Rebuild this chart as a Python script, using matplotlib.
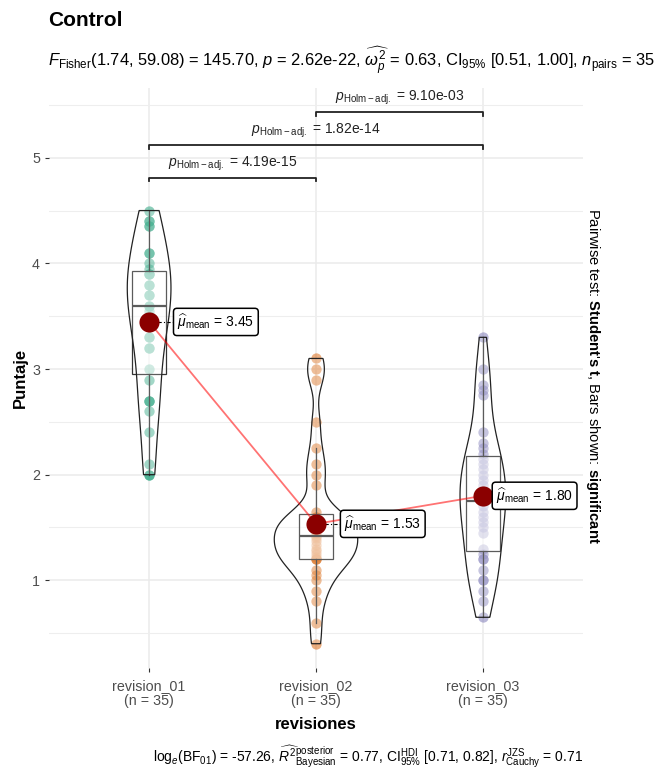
import numpy as np
import matplotlib
matplotlib.use("Agg")
import matplotlib.pyplot as plt
from matplotlib.patches import Polygon

plt.rcParams['font.family'] = ['Liberation Sans', 'DejaVu Sans']
plt.rcParams['mathtext.fontset'] = 'custom'
plt.rcParams['mathtext.rm'] = 'Liberation Sans'
plt.rcParams['mathtext.it'] = 'Liberation Sans:italic'
plt.rcParams['mathtext.bf'] = 'Liberation Sans:bold'

# data (35 scores per revision)
groups = ["revision_01", "revision_02", "revision_03"]
colors = ["#1B9E77", "#D95F02", "#7570B3"]

rev_01 = [2.0, 2.0, 2.1, 2.4, 2.6, 2.7, 2.7, 2.7, 2.9, 3.0, 3.2, 3.2, 3.3, 3.4,
          3.3, 3.5, 3.55, 3.6, 3.6, 3.7, 3.7, 3.8, 3.8, 3.9, 3.9, 3.9, 3.95,
          4.0, 4.1, 4.1, 4.35, 4.35, 4.4, 4.4, 4.5]
rev_02 = [0.4, 0.6, 0.8, 0.9, 1.0, 1.05, 1.1, 1.2, 1.2, 1.2, 1.22, 1.25, 1.28,
          1.3, 1.33, 1.37, 1.4, 1.42, 1.45, 1.48, 1.5, 1.52, 1.55, 1.58, 1.6,
          1.6, 1.65, 1.9, 2.0, 2.1, 2.25, 2.5, 2.9, 3.0, 3.1]
rev_03 = [0.65, 0.8, 0.9, 1.0, 1.0, 1.1, 1.2, 1.2, 1.25, 1.3, 1.45, 1.5, 1.55,
          1.6, 1.65, 1.7, 1.75, 1.75, 1.8, 1.85, 1.9, 1.95, 2.0, 2.05, 2.1, 2.15,
          2.2, 2.25, 2.3, 2.4, 2.8, 2.75, 2.85, 3.0, 3.3]
data = [np.array(rev_01), np.array(rev_02), np.array(rev_03)]

pairs = [(1, 2), (1, 3), (2, 3)]
p_holm = ["4.19e-15", "1.82e-14", "9.10e-03"]

subtitle = (r"$F_{\mathrm{Fisher}}$(1.74, 59.08) = 145.70, $p$ = 2.62e-22, "
            r"$\widehat{\omega_p^2}$ = 0.63, CI$_{95\%}$ [0.51, 1.00], $n_{\mathrm{pairs}}$ = 35")
caption = (r"log$_e$(BF$_{01}$) = -57.26, $\widehat{R^2}_{\mathrm{Bayesian}}^{\mathrm{posterior}}$ = 0.77, "
           r"CI$_{95\%}^{\mathrm{HDI}}$ [0.71, 0.82], $r_{\mathrm{Cauchy}}^{\mathrm{JZS}}$ = 0.71")


def kde(v, grid):
    n = len(v)
    iqr = np.subtract(*np.percentile(v, [75, 25]))
    bw = 0.9 * min(v.std(ddof=1), iqr / 1.34) * n ** -0.2
    z = (grid[:, None] - v[None, :]) / bw
    return np.exp(-0.5 * z ** 2).sum(axis=1) / (n * bw * np.sqrt(2 * np.pi))


fig = plt.figure(figsize=(6.61, 7.7), dpi=100)
ax = fig.add_axes([49 / 661, 1 - 668 / 770, (583 - 49) / 661, (668 - 88) / 770])

pos = np.arange(1, len(groups) + 1)

# points
for i, v in enumerate(data):
    ax.scatter(np.full(len(v), pos[i]), v, s=55, color=colors[i], alpha=0.5,
               linewidths=0, zorder=2)

# boxplots
bp = ax.boxplot(data, positions=pos, widths=0.2, showfliers=False, showcaps=False,
                patch_artist=True, whis=1.5,
                boxprops=dict(facecolor=(1, 1, 1, 0.5), edgecolor="#333333", linewidth=0.9),
                whiskerprops=dict(color="#333333", linewidth=0.9),
                medianprops=dict(color="#333333", linewidth=1.6))
for art in bp["boxes"] + bp["whiskers"] + bp["medians"]:
    art.set_zorder(3)

# violins (scale = area, width 0.5)
dens = []
for v in data:
    g = np.linspace(v.min(), v.max(), 512)
    dens.append((g, kde(v, g)))
dmax = max(d.max() for _, d in dens)
for i, (g, d) in enumerate(dens):
    hw = d / dmax * 0.25
    xs = np.concatenate([pos[i] - hw, (pos[i] + hw)[::-1]])
    ys = np.concatenate([g, g[::-1]])
    ax.add_patch(Polygon(np.column_stack([xs, ys]), closed=True, facecolor=(1, 1, 1, 0.2),
                         edgecolor="#222222", linewidth=0.9, zorder=4))

# centrality
means = [v.mean() for v in data]
ax.plot(pos, means, color="red", alpha=0.55, linewidth=1.3, zorder=5)
for i, m in enumerate(means):
    lx = min(pos[i] + 0.4, 3.31)
    ax.plot([pos[i], lx - 0.25], [m, m], color="black", linewidth=0.8,
            linestyle=(0, (3, 2, 1, 2)), zorder=5)
    ax.scatter([pos[i]], [m], s=210, color="darkred", zorder=6, linewidths=0)
    ax.text(lx, m, r"$\widehat{\mu}_{\mathrm{mean}}$ = %.2f" % m, ha="center", va="center",
            fontsize=10, zorder=7,
            bbox=dict(boxstyle="round,pad=0.28,rounding_size=0.25", fc="white",
                      ec="black", lw=1.1))

# pairwise brackets
ytop = max(v.max() for v in data)
step = 0.31
tip = 0.035
for k, ((a, b), lab) in enumerate(zip(pairs, p_holm)):
    yb = ytop + step * (k + 1)
    ax.plot([a, a, b, b], [yb - tip, yb, yb, yb - tip], color="#222222",
            linewidth=1.3, zorder=5)
    ax.text((a + b) / 2, yb + 0.05, r"$p_{\mathrm{Holm-adj.}}$ = " + lab,
            ha="center", va="bottom", fontsize=10, color="#222222")

ax.set_xlim(0.4, 3.6)
ax.set_ylim(0.17, 5.66)
ax.set_xticks(pos)
ax.set_xticklabels(["%s\n(n = %d)" % (g, len(v)) for g, v in zip(groups, data)],
                   linespacing=1.1)
ax.set_yticks([1, 2, 3, 4, 5])
ax.set_yticks(np.arange(0.5, 6.0, 1.0), minor=True)
ax.tick_params(axis="both", which="major", length=3, color="#333333",
               labelcolor="#4D4D4D", labelsize=10.3)
ax.tick_params(axis="x", which="major", pad=5)
ax.tick_params(axis="y", which="minor", length=0)
ax.grid(True, which="major", color="#EBEBEB", linewidth=1.1)
ax.grid(True, which="minor", axis="y", color="#EEEEEE", linewidth=0.8)
ax.set_axisbelow(True)
for sp in ax.spines.values():
    sp.set_visible(False)

ax.set_xlabel("revisiones", fontsize=12, fontweight="bold", labelpad=6)
ax.set_ylabel("Puntaje", fontsize=12, fontweight="bold", labelpad=3)

fig.text(48 / 661, 1 - 11 / 770, "Control", fontsize=15, fontweight="bold", va="top")
fig.text(48 / 661, 1 - 61 / 770, subtitle, fontsize=11.9, va="center")
fig.text(583 / 661, 1 - 757 / 770, caption, fontsize=10, ha="right", va="center")
fig.text(593 / 661, 1 - 376 / 770,
         r"Pairwise test: $\bf{Student}$'$\bf{s\ t}$, Bars shown: $\bf{significant}$",
         rotation=-90, ha="center", va="center", fontsize=10.6)

fig.savefig("out.png", dpi=100)
